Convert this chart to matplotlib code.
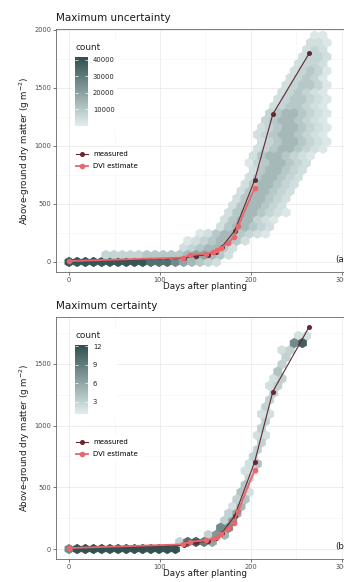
import numpy as np
import matplotlib
matplotlib.use('Agg')
import matplotlib.pyplot as plt
from matplotlib.colors import LinearSegmentedColormap
from matplotlib.patches import Rectangle

# measured and DVI-estimated dry matter (same lines in both panels)
measured_day = [0, 126, 140, 153, 161, 168, 182, 204, 224, 264]
measured_dm = [8, 30, 55, 62, 90, 130, 268, 705, 1275, 1800]
dvi_day = [0, 125, 133, 151, 158, 163, 167, 175, 181, 186, 204]
dvi_dm = [8, 38, 58, 72, 85, 100, 120, 165, 213, 310, 640]

# hex counts: one (first column, levels) per hex row, bottom row first.
# row r sits at dry matter r*row_step, column k at day 9*k (+4.5 on odd rows)
unc_levels = [1500, 4000, 7000, 10000, 14000, 19000, 26000, 33000, 40000]  # '1'..'9'
unc_rows = [
    (0, "9999999999888765432"),
    (4, "3333344444566542"),
    (14, "2345542"),
    (14, "12345542"),
    (16, "124554321"),
    (18, "2455432"),
    (19, "2455321"),
    (19, "24554321"),
    (20, "2455432"),
    (20, "2455432"),
    (21, "2455432"),
    (21, "2455432"),
    (22, "2455432"),
    (22, "2455432"),
    (22, "13455432"),
    (22, "24554321"),
    (23, "234554321"),
    (23, "234554321"),
    (23, "234554321"),
    (23, "234554321"),
    (24, "34554321"),
    (24, "34554321"),
    (25, "2344321"),
    (25, "2344321"),
    (26, "234321"),
    (26, "234431"),
    (27, "23431"),
    (27, "23431"),
    (28, "2332"),
    (28, "2332"),
    (29, "232"),
    (29, "221"),
    (30, "11"),
]
# certainty counts as hex digits 1..c (=12)
cert_rows = [
    (0, "8ccccccccccccc"),
    (13, "3ab96"),
    (17, "375"),
    (18, "88"),
    (19, "37"),
    (19, "36"),
    (20, "25"),
    (20, "34"),
    (21, "42"),
    (21, "4"),
    (22, "3"),
    (21, "22"),
    (22, "24"),
    (22, "3"),
    (23, "3"),
    (23, "3"),
    (23, "22"),
    (23, "3"),
    (24, "3"),
    (23, "22"),
    (24, "3"),
    (24, "3"),
    (25, "3"),
    (24, "23"),
    (25, "23"),
    (25, "4"),
    (26, "3"),
    (26, "3"),
    (26, "23"),
    (27, "8b"),
    (28, "22"),
]

W, H = 344, 582
meas_col = '#652830'
dvi_col = '#e8676d'
cmap = LinearSegmentedColormap.from_list('slate', ['#e2eeee', '#2f4e4e'])


def hex_points(rows, hx, hy, lookup):
    xs, ys, cs = [], [], []
    for r, (start, levels) in enumerate(rows):
        for i, ch in enumerate(levels):
            if ch == '.':
                continue
            k = start + i
            xs.append((2 * k + r % 2) * hx)
            ys.append(r * hy)
            cs.append(lookup(ch))
    return np.array(xs, float), np.array(ys, float), np.array(cs, float)


def frac(x0, y0, x1, y1):
    return [x0 / W, 1 - y1 / H, (x1 - x0) / W, (y1 - y0) / H]


def panel(rect, ylim, yticks, rows, lookup, row_step, vmax, cticks,
          title, tag, top, cbar_rect, box_rect, leg_top):
    ax = fig.add_axes(frac(*rect))
    ax.set_xlim(-14.3, 319.8)
    ax.set_ylim(*ylim)
    ax.set_axisbelow(True)
    ax.set_xticks([0, 100, 200, 300])
    ax.set_xticks([50, 150, 250], minor=True)
    ax.set_yticks(yticks)
    ax.set_yticks([250, 750, 1250, 1750], minor=True)
    ax.grid(which='major', color='#ebebeb', lw=0.6)
    ax.grid(which='minor', color='#f4f4f4', lw=0.4)
    ax.tick_params(labelsize=4.8, labelcolor='#4d4d4d', length=2, width=0.5,
                   color='#444444', pad=1.5)
    ax.tick_params(which='minor', length=0)
    for s in ax.spines.values():
        s.set_color('#666666')
        s.set_linewidth(0.6)

    xs, ys, cs = hex_points(rows, 4.5, row_step, lookup)
    ny = int(np.ceil(len(rows) / 2))
    hb = ax.hexbin(xs, ys, C=cs, reduce_C_function=np.sum, gridsize=(32, ny),
                   extent=(0, 32 * 9, 0, ny * 2 * row_step), cmap=cmap,
                   vmin=1, vmax=vmax, linewidths=0.5, edgecolors='face', zorder=1)

    ax.plot(measured_day, measured_dm, color=meas_col, lw=0.8, marker='o', ms=2.6,
            zorder=3, label='measured')
    ax.plot(dvi_day, dvi_dm, color=dvi_col, lw=1.3, marker='o', ms=3.0,
            zorder=4, label='DVI estimate')

    ax.text(293, 22, tag, fontsize=6.3, va='center', color='#222222')

    # legend backgrounds
    ax.add_patch(Rectangle((box_rect[0] / W, 1 - box_rect[3] / H),
                           (box_rect[2] - box_rect[0]) / W,
                           (box_rect[3] - box_rect[1]) / H,
                           transform=fig.transFigure, facecolor='white',
                           edgecolor='none', zorder=5))
    leg = ax.legend(loc='upper left', bbox_to_anchor=(72 / W, 1 - leg_top / H),
                    bbox_transform=fig.transFigure, fontsize=5, frameon=True,
                    fancybox=False, framealpha=1, edgecolor='none',
                    handlelength=1.75, handletextpad=0.7, labelspacing=0.85,
                    borderpad=0.6, borderaxespad=0)
    leg.set_zorder(6)

    cax = fig.add_axes(frac(*cbar_rect))
    cb = fig.colorbar(hb, cax=cax, ticks=cticks)
    cb.outline.set_visible(False)
    cax.tick_params(labelsize=4.9, labelcolor='#222222', direction='in',
                    color='white', length=2.5, width=0.5, pad=3.5, left=True, right=True)
    cax.set_yticklabels([str(t) for t in cticks])
    fig.text(75 / W, 1 - (cbar_rect[1] - 9) / H, 'count', fontsize=6.4,
             va='center', ha='left', color='#222222')

    fig.text(56 / W, 1 - top / H, title, fontsize=7.5, va='center', ha='left',
             color='#1a1a1a')
    fig.text(205 / W, 1 - (rect[3] + 14) / H, 'Days after planting', fontsize=6.3,
             va='center', ha='center', color='#1a1a1a')
    fig.text(25 / W, 1 - (rect[1] + rect[3]) / 2 / H,
             r'Above-ground dry matter (g m$^{-2}$)', fontsize=6.3, rotation=90,
             va='center', ha='center', color='#1a1a1a')
    return ax


fig = plt.figure(figsize=(W / 100, H / 100), dpi=100)

panel((56, 29.3, 360, 272.3), (-89, 2006), [0, 500, 1000, 1500, 2000],
      unc_rows, lambda ch: unc_levels[int(ch) - 1], 61, 41800,
      [10000, 20000, 30000, 40000], 'Maximum uncertainty', '(a)', 18,
      (75, 57, 88, 126), (72, 41, 117, 130), 147)

panel((56, 316.7, 360, 559.3), (-83, 1881), [0, 500, 1000, 1500],
      cert_rows, lambda ch: int(ch, 16), 57.5, 12.2,
      [3, 6, 9, 12], 'Maximum certainty', '(b)', 306,
      (75, 345, 88, 414), (72, 329, 117, 418), 435)

fig.savefig('out.png', dpi=100)
